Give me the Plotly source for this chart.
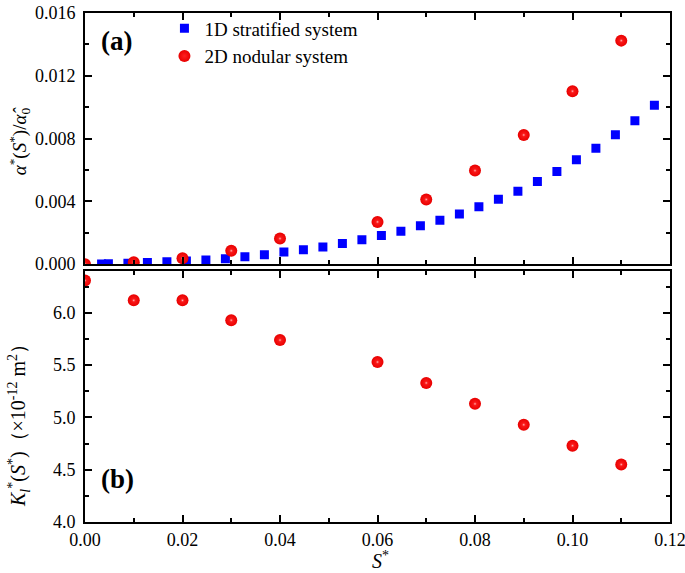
import plotly.graph_objects as go

# ---- data ----
s_1d = [0.0034, 0.0048, 0.0088, 0.0128, 0.0168, 0.0208, 0.0248, 0.0288, 0.0328, 0.0368,
        0.0408, 0.0448, 0.0488, 0.0528, 0.0568, 0.0608, 0.0648, 0.0688, 0.0728, 0.0768,
        0.0808, 0.0848, 0.0888, 0.0928, 0.0968, 0.1008, 0.1048, 0.1088, 0.1128, 0.1168]
alpha_1d = [0.00001, 0.00002, 0.00005, 0.00010, 0.00015, 0.00020, 0.00027, 0.00035, 0.00047, 0.00060,
            0.00077, 0.00092, 0.00109, 0.00132, 0.00156, 0.00182, 0.00210, 0.00244, 0.00280, 0.00319,
            0.00366, 0.00414, 0.00465, 0.00526, 0.00591, 0.00665, 0.00739, 0.00824, 0.00914, 0.01013]
s_2d = [0.00, 0.01, 0.02, 0.03, 0.04, 0.06, 0.07, 0.08, 0.09, 0.10, 0.11]
alpha_2d = [0.0, 0.00012, 0.00037, 0.00085, 0.00163, 0.00269, 0.00412, 0.00596, 0.00823, 0.01102, 0.01424]
k_2d = [6.31, 6.12, 6.12, 5.93, 5.74, 5.53, 5.33, 5.13, 4.93, 4.73, 4.55]
legend_names = ["1D stratif\u200cied system", "2D nodular system"]

FONT = "Liberation Serif"
BLUE = "#0000ff"
RED_EDGE = "#e80000"
RED_CENTER = "#ff2020"


def sphere_traces(x, y, xa, ya, name=None, legend=False):
    base = go.Scatter(x=x, y=y, mode="markers", name=name, showlegend=legend,
                      xaxis=xa, yaxis=ya,
                      marker=dict(symbol="circle", size=12, color=RED_EDGE,
                                  gradient=dict(type="radial", color=RED_CENTER),
                                  line=dict(width=0)))
    glint = go.Scatter(x=x, y=y, mode="markers", showlegend=False, hoverinfo="skip",
                       xaxis=xa, yaxis=ya,
                       marker=dict(symbol="circle", size=4, color="rgba(255,40,40,0)",
                                   gradient=dict(type="radial", color="#ffc8c8"),
                                   line=dict(width=0)))
    return [base, glint]


fig = go.Figure()
fig.add_trace(go.Scatter(x=s_1d, y=alpha_1d, mode="markers", name=legend_names[0],
                         xaxis="x2", yaxis="y2",
                         marker=dict(symbol="square", size=9, color=BLUE, line=dict(width=0))))
for t in sphere_traces(s_2d, alpha_2d, "x2", "y2", name=legend_names[1], legend=True):
    fig.add_trace(t)
for t in sphere_traces(s_2d, k_2d, "x", "y"):
    fig.add_trace(t)

axis_common = dict(showline=True, linecolor="black", linewidth=2, mirror="allticks",
                   ticks="inside", ticklen=7, tickwidth=2, tickcolor="black",
                   showgrid=False, zeroline=False, automargin=False,
                   ticklabeloverflow="allow",
                   tickfont=dict(family=FONT, size=18, color="black"))

fig.update_layout(
    width=685, height=573,
    margin=dict(l=84.5, r=15, t=9.5, b=50.7),
    plot_bgcolor="white", paper_bgcolor="white",
    font=dict(family=FONT, color="black"),
    xaxis=dict(domain=[0, 1], anchor="y", range=[0, 0.12], dtick=0.02, tickformat=".2f",
               minor=dict(ticks="inside", ticklen=4, tickwidth=2, dtick=0.01, tickcolor="black"),
               **axis_common),
    yaxis=dict(domain=[0, 0.494], anchor="x", range=[4.0, 6.405], dtick=0.5, tickformat=".1f",
               ticklabelstandoff=4,
               minor=dict(ticks="inside", ticklen=4, tickwidth=2, dtick=0.25, tickcolor="black"),
               **axis_common),
    xaxis2=dict(domain=[0, 1], anchor="y2", matches="x", range=[0, 0.12], dtick=0.02,
                showticklabels=False,
                minor=dict(ticks="inside", ticklen=4, tickwidth=2, dtick=0.01, tickcolor="black"),
                **axis_common),
    yaxis2=dict(domain=[0.5066, 1], anchor="x2", range=[0, 0.016], dtick=0.004, tickformat=".3f",
                ticklabelstandoff=4,
                minor=dict(ticks="inside", ticklen=4, tickwidth=2, dtick=0.002, tickcolor="black"),
                **axis_common),
    legend=dict(x=0.1358, y=1.007, xanchor="left", yanchor="top", bgcolor="rgba(0,0,0,0)",
                font=dict(family="Liberation Serif", size=19, color="black"), itemsizing="trace",
                tracegroupgap=2),
    showlegend=True,
)

# axis titles
fig.add_annotation(text="<i>α</i><sup>*</sup>(<i>S</i><sup>*</sup>)/<i>α\u0302</i><sub>0</sub>",
                   xref="paper", yref="paper", x=-0.1119, y=0.749, xanchor="center", yanchor="middle",
                   textangle=-90, showarrow=False, font=dict(family=FONT, size=19, color="black"))
fig.add_annotation(text="<i>K</i><sub><i>l</i></sub><sup>*</sup>(<i>S</i><sup>*</sup>)\uff08×10<sup>-12</sup> m<sup>2</sup>\uff09",
                   xref="paper", yref="paper", x=-0.1119, y=0.1995, xanchor="center", yanchor="middle",
                   textangle=-90, showarrow=False, font=dict(family=FONT, size=20, color="black"))
fig.add_annotation(text="<i>S</i><sup>*</sup>", xref="paper", yref="paper", x=0.5047, y=-0.075,
                   xanchor="center", yanchor="middle", showarrow=False,
                   font=dict(family=FONT, size=20, color="black"))

# panel labels
fig.add_annotation(text="<b>(a)</b>", xref="paper", yref="paper", x=0.0538, y=0.9444,
                   xanchor="center", yanchor="middle",
                   showarrow=False, font=dict(family=FONT, size=27, color="black"))
fig.add_annotation(text="<b>(b)</b>", xref="paper", yref="paper", x=0.0564, y=0.0844,
                   xanchor="center", yanchor="middle",
                   showarrow=False, font=dict(family=FONT, size=27, color="black"))

# page body has a default 8px margin; remove it so the figure sits at the window's top-left
fig.write_html("out.html", config={"displayModeBar": False},
               post_script="document.body.style.margin='0px';")
